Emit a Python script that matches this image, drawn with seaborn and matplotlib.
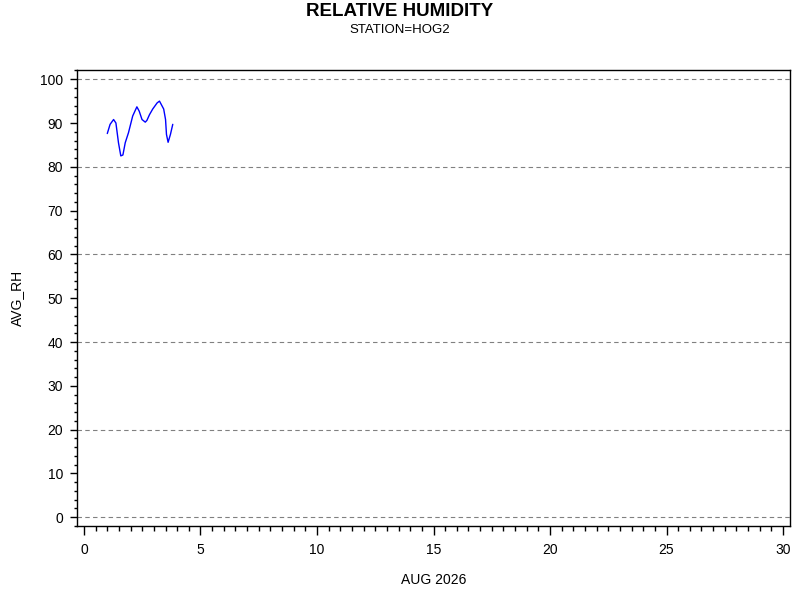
import matplotlib
matplotlib.use("Agg")
import matplotlib.pyplot as plt
from matplotlib.ticker import MultipleLocator
import pandas as pd
import seaborn as sns

# day of month (AUG 2026) and average relative humidity
day = [1.00, 1.12, 1.27, 1.37, 1.48, 1.58, 1.67, 1.77, 1.91, 2.09, 2.27, 2.37,
       2.49, 2.63, 2.70, 2.81, 2.95, 3.14, 3.24, 3.42, 3.50, 3.54, 3.61, 3.71, 3.81]
avg_rh = [87.6, 89.7, 90.8, 90.0, 85.5, 82.5, 82.7, 85.5, 87.8, 91.6, 93.7, 92.7,
          90.8, 90.2, 90.6, 91.9, 93.2, 94.6, 95.0, 93.2, 90.8, 87.4, 85.6, 87.4, 89.7]

df = pd.DataFrame({"day": day, "AVG_RH": avg_rh})

sns.set_theme(style="white")
plt.rcParams["font.family"] = ["Liberation Sans", "DejaVu Sans"]
plt.rcParams["text.color"] = "black"

fig = plt.figure(figsize=(8, 6), dpi=100)
ax = fig.add_axes([0.09625, 0.1233, 0.89125, 0.76])

sns.lineplot(data=df, x="day", y="AVG_RH", color="blue", linewidth=1.0, ax=ax)

ax.set_xlim(-0.3, 30.3)
ax.set_ylim(-2.0, 102.1)
ax.xaxis.set_major_locator(MultipleLocator(5))
ax.xaxis.set_minor_locator(MultipleLocator(0.5))
ax.yaxis.set_major_locator(MultipleLocator(10))
ax.yaxis.set_minor_locator(MultipleLocator(2))

for yv in range(0, 101, 20):
    ax.axhline(yv, color="#808080", linestyle=(0, (4, 3)), linewidth=0.8, zorder=0)

ax.tick_params(axis="both", which="major", direction="out", width=1,
               color="black", labelsize=10, labelcolor="black",
               bottom=True, left=True)
ax.tick_params(axis="both", which="minor", direction="out", width=1,
               color="black", bottom=True, left=True)
ax.tick_params(axis="y", which="major", length=5, pad=5)
ax.tick_params(axis="y", which="minor", length=2.5)
ax.tick_params(axis="x", which="major", length=6.5, pad=6)
ax.tick_params(axis="x", which="minor", length=3.6)

for s in ax.spines.values():
    s.set_color("black")
    s.set_linewidth(1)

ax.set_xlabel("")
ax.set_ylabel("")
fig.text(433.5 / 800, 1 - 580 / 600, "AUG 2026", ha="center", va="center", fontsize=10)
fig.text(17 / 800, 1 - 298 / 600, "AVG_RH", ha="center", va="center", rotation=90, fontsize=10)

fig.text(0.5, 1 - 11 / 600, "RELATIVE HUMIDITY", ha="center", va="center",
         fontsize=13.5, fontweight="bold")
fig.text(0.5, 1 - 30 / 600, "STATION=HOG2", ha="center", va="center", fontsize=9.5)

fig.savefig("out.png", dpi=100)
plt.close(fig)
